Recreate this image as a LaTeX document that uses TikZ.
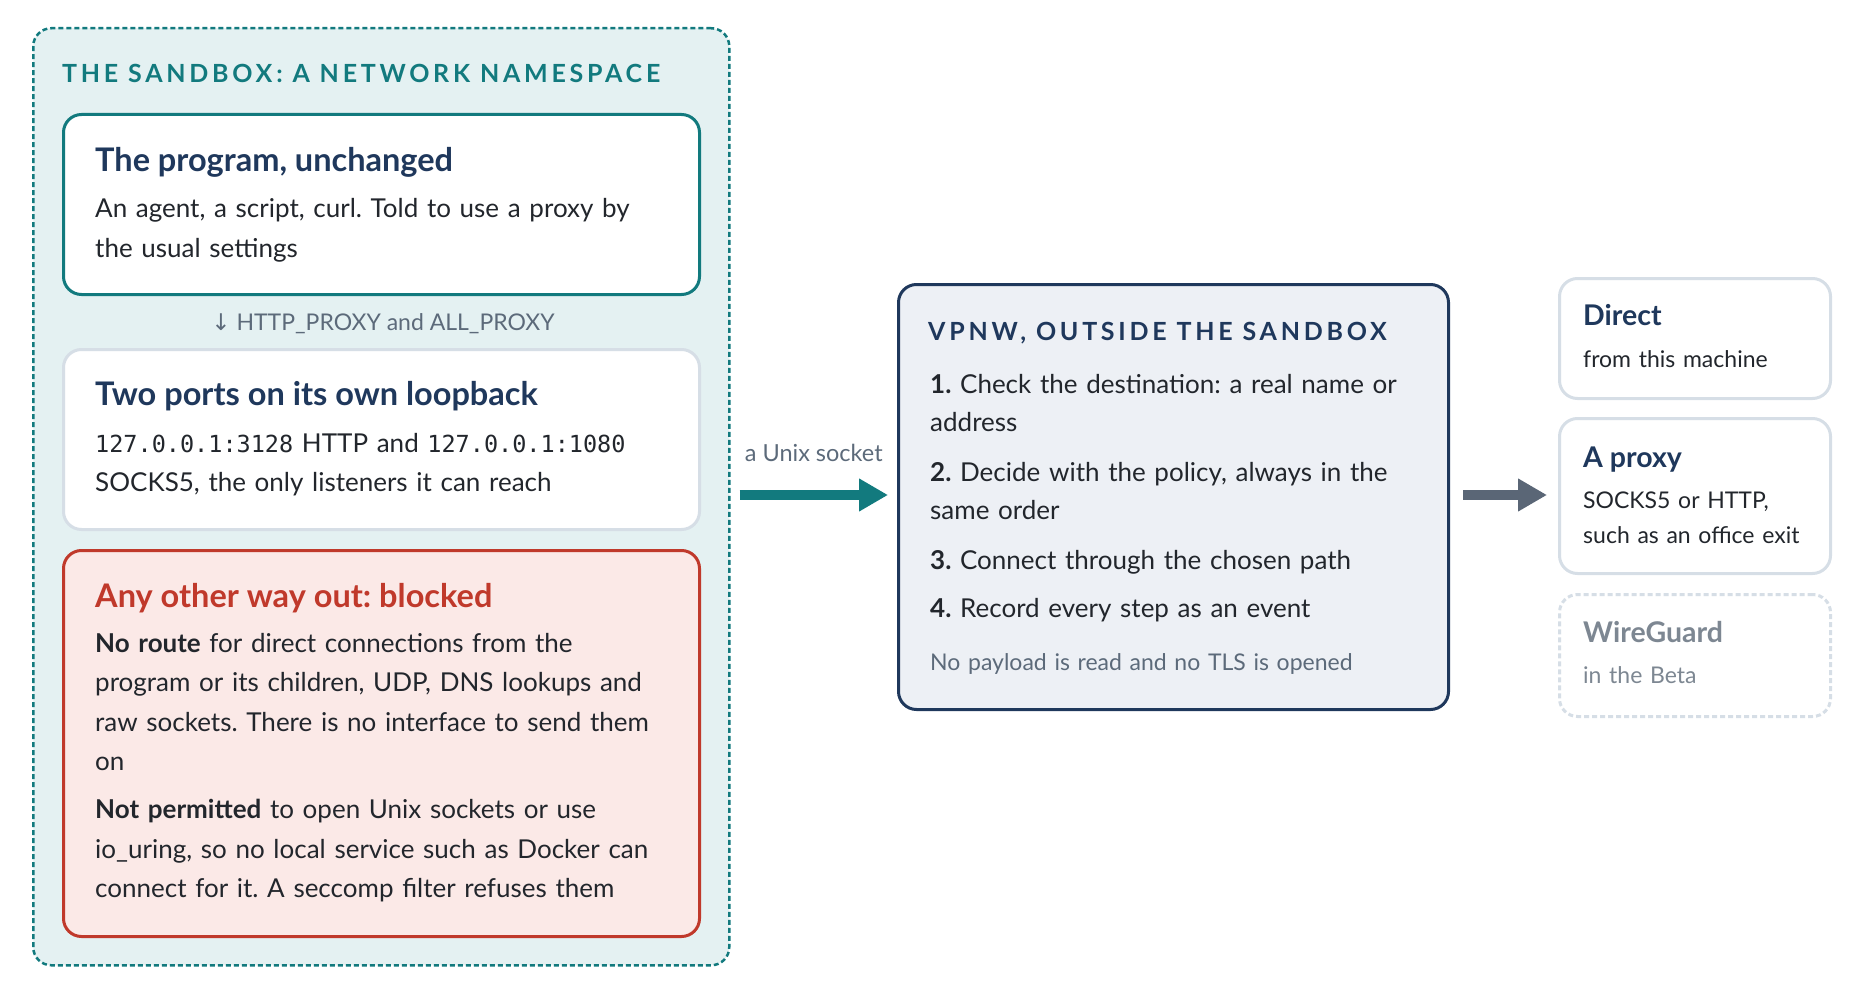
\documentclass[tikz,border=0pt]{standalone}
\usepackage{fontspec}
\setmainfont{Lato}
\setmonofont{DejaVu Sans Mono}
\newfontfamily\arrowfont{DejaVu Sans}
\usepackage{tikz}
\usetikzlibrary{arrows.meta, positioning}
\definecolor{sandteal}{RGB}{18, 122, 126}
\definecolor{sandfill}{RGB}{228, 241, 242}
\definecolor{inknavy}{RGB}{31, 56, 92}
\definecolor{inkbody}{RGB}{34, 38, 44}
\definecolor{inkgray}{RGB}{92, 106, 122}
\definecolor{paleline}{RGB}{214, 222, 230}
\definecolor{blockred}{RGB}{192, 57, 43}
\definecolor{blockfill}{RGB}{251, 233, 231}
\definecolor{vpnfill}{RGB}{237, 240, 245}
\definecolor{slatearrow}{RGB}{90, 102, 118}
\definecolor{betagray}{RGB}{125, 135, 146}
\newcommand{\capshead}{\bfseries\addfontfeature{LetterSpace=15}}
\frenchspacing

\begin{document}
\begin{tikzpicture}[x=1pt, y=-1pt,
    panel/.style={draw, rounded corners=18pt, line width=3pt, anchor=north west, inner sep=0pt},
    heading/.style={anchor=base west, inner sep=0pt, font=\fontsize{25}{30}\selectfont\capshead},
    boxtitle/.style={anchor=base west, inner sep=0pt, text=inknavy, font=\fontsize{32.5}{38}\selectfont\bfseries},
    boxtext/.style={anchor=base west, text=inkbody, align=left, text width=600pt, inner sep=0pt, font=\fontsize{26}{39.5}\selectfont},
    sidetitle/.style={anchor=base west, inner sep=0pt, text=inknavy, font=\fontsize{28.5}{32}\selectfont\bfseries},
    sidetext/.style={anchor=base west, text=inkbody, align=left, text width=260pt, inner sep=0pt, font=\fontsize{23}{35}\selectfont},
    fatarrow/.style={line width=10pt, -{Triangle[length=29pt, width=31pt]}}]
    \useasboundingbox (0,0) rectangle (1860,995);

    % the sandbox and what runs inside it
    \node[panel, dashed, dash pattern=on 5pt off 3pt, line width=2.5pt, draw=sandteal, fill=sandfill,
          minimum width=696pt, minimum height=937pt] (sandbox) at (32,27) {};
    \node[heading, text=sandteal] (sandhead) at (62,83) {THE SANDBOX: A NETWORK NAMESPACE};

    \node[panel, draw=sandteal, fill=white, minimum width=636pt, minimum height=180pt] (prog) at (62,113) {};
    \node[boxtitle] (progtitle) at (95,172) {The program, unchanged};
    \node[boxtext] (progtext) at (95,218) {An agent, a script, curl. Told to use a proxy by\\the usual settings};

    \node[anchor=base, text=inkgray, font=\fontsize{23}{28}\selectfont] (envlabel) at (383,330)
        {{\arrowfont\fontsize{23}{28}\selectfont ↓} HTTP\_PROXY and ALL\_PROXY};

    \node[panel, draw=paleline, fill=white, minimum width=636pt, minimum height=180pt] (ports) at (62,348) {};
    \node[boxtitle] (portstitle) at (95,405) {Two ports on its own loopback};
    \node[boxtext] (portstext) at (95,452)
        {{\ttfamily\fontsize{23.5}{39.5}\selectfont 127.0.0.1:3128} HTTP and {\ttfamily\fontsize{23.5}{39.5}\selectfont 127.0.0.1:1080}\\SOCKS5, the only listeners it can reach};

    \node[panel, draw=blockred, fill=blockfill, minimum width=636pt, minimum height=386pt] (blocked) at (62,549) {};
    \node[boxtitle, text=blockred] (blockedtitle) at (95,607) {Any other way out: blocked};
    \node[boxtext] (blockedtext) at (95,652)
        {\textbf{No route} for direct connections from the\\program or its children, UDP, DNS lookups and\\raw sockets. There is no interface to send them\\on\\[8.5pt]
         \textbf{Not permitted} to open Unix sockets or use\\io\_uring, so no local service such as Docker can\\connect for it. A seccomp filter refuses them};

    % vpnw outside
    \node[panel, draw=inknavy, fill=vpnfill, minimum width=550pt, minimum height=425pt] (vpnw) at (897,283) {};
    \node[heading, text=inknavy] (vpnwhead) at (928,340) {VPNW, OUTSIDE THE SANDBOX};
    \node[boxtext, font=\fontsize{26}{38.5}\selectfont] (steps) at (930,393)
        {\textbf{1.} Check the destination: a real name or\\address\\[11pt]
         \textbf{2.} Decide with the policy, always in the\\same order\\[11pt]
         \textbf{3.} Connect through the chosen path\\[9.5pt]
         \textbf{4.} Record every step as an event};
    \node[boxtext, text=inkgray, font=\fontsize{23}{30}\selectfont] (vpnwnote) at (930,670) {No payload is read and no TLS is opened};

    % exits
    \node[panel, draw=paleline, fill=white, minimum width=271pt, minimum height=120pt] (direct) at (1558,277) {};
    \node[sidetitle] (directtitle) at (1583,325) {Direct};
    \node[sidetext] (directtext) at (1583,367) {from this machine};

    \node[panel, draw=paleline, fill=white, minimum width=271pt, minimum height=155pt] (proxy) at (1558,417) {};
    \node[sidetitle] (proxytitle) at (1583,467) {A proxy};
    \node[sidetext] (proxytext) at (1583,508) {SOCKS5 or HTTP,\\such as an office exit};

    \node[panel, dashed, dash pattern=on 5pt off 3pt, draw=paleline, fill=white, minimum width=271pt, minimum height=122pt] (wireguard) at (1558,593) {};
    \node[sidetitle, text=betagray] (wiretitle) at (1583,642) {WireGuard};
    \node[sidetext, text=betagray] (wiretext) at (1583,683) {in the Beta};

    % connectors
    \draw[fatarrow, sandteal, shorten <=9pt, shorten >=9pt] (sandbox.east |- 0,495) -- (vpnw.west |- 0,495)
        node[midway, above=25pt, text=inkgray, font=\fontsize{23.5}{28}\selectfont] (socklabel) {a Unix socket};
    \draw[fatarrow, slatearrow, shorten <=13pt, shorten >=11pt] (vpnw.east |- 0,495) -- (proxy.west |- 0,495);
\end{tikzpicture}
\end{document}
